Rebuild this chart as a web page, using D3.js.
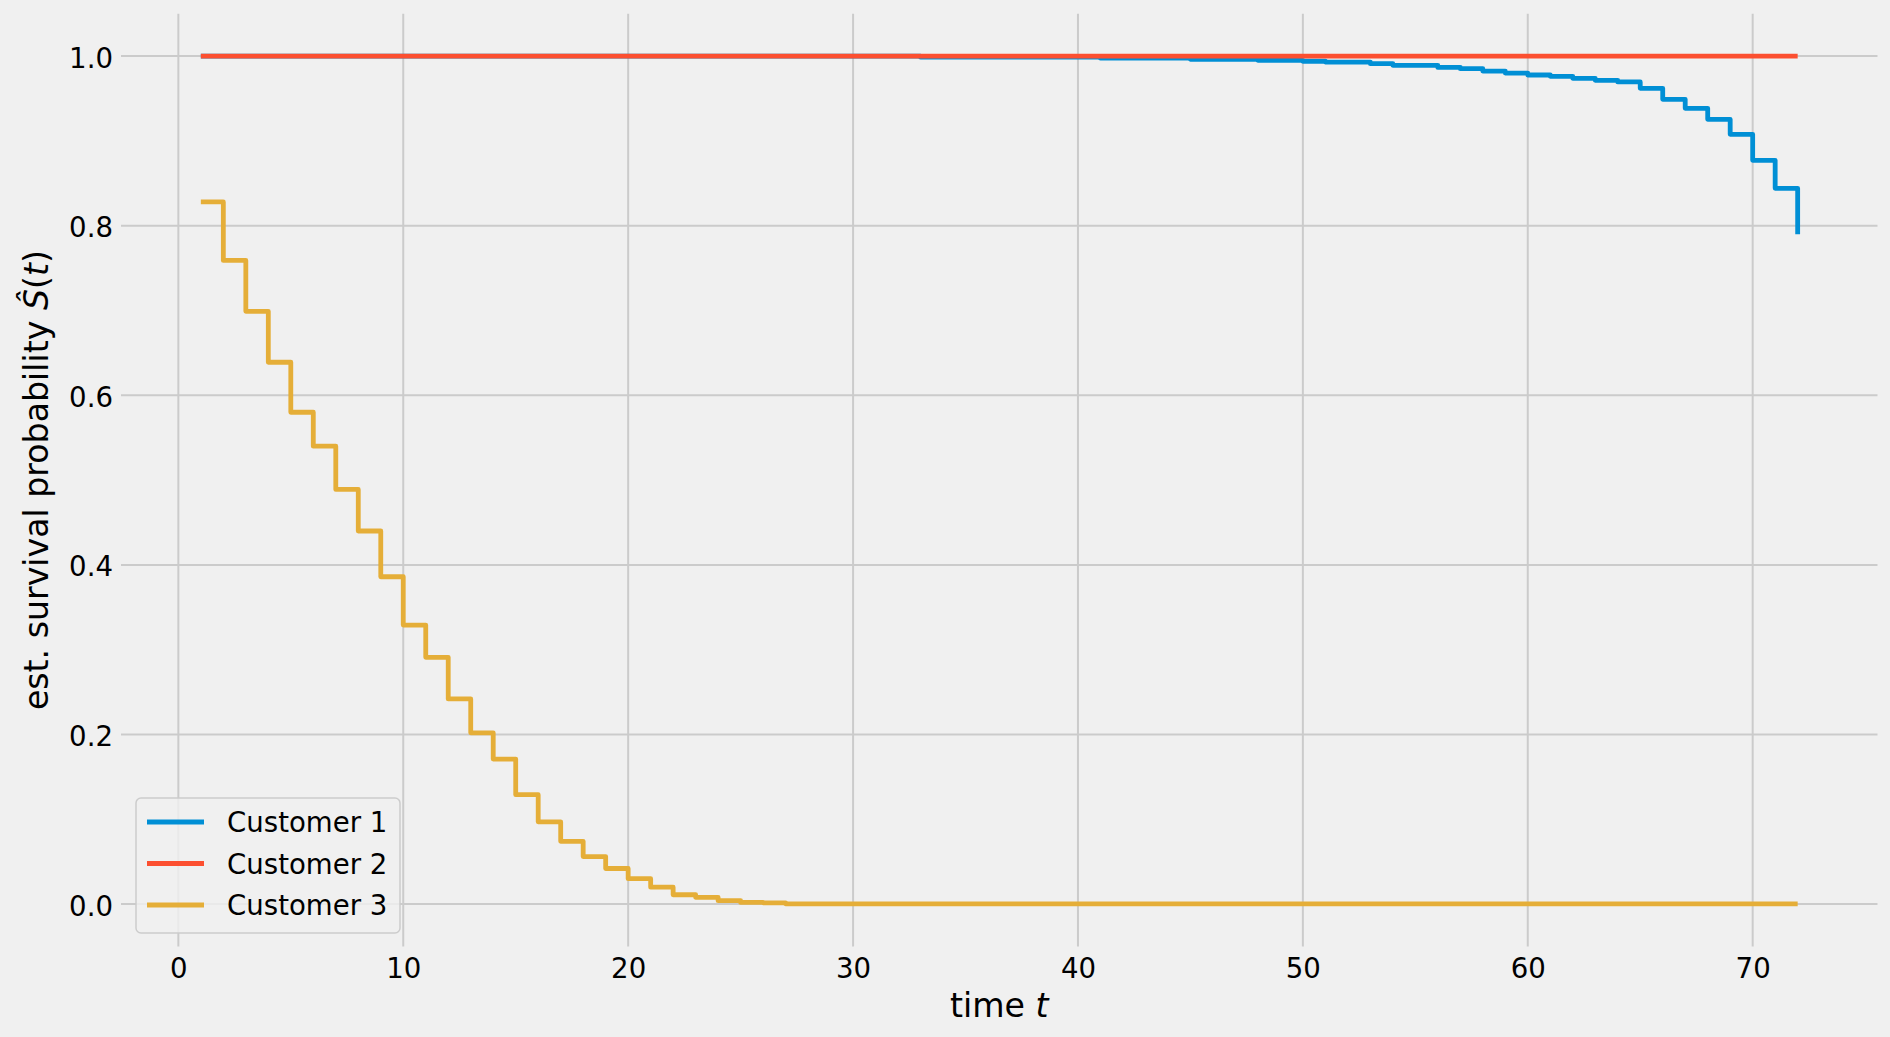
<!DOCTYPE html>
<html>
<head>
<meta charset="utf-8">
<script src="https://cdn.jsdelivr.net/npm/d3@7"></script>
<style>
html, body { margin: 0; padding: 0; background: #f0f0f0; }
svg { display: block; font-family: "DejaVu Sans", sans-serif; }
</style>
</head>
<body>
<svg id="chart" width="1890" height="1037"></svg>
<script>
// ---- data ----
const xTicks = [0, 10, 20, 30, 40, 50, 60, 70];
const yTicks = [0.0, 0.2, 0.4, 0.6, 0.8, 1.0];
const seriesNames = ["Customer 1", "Customer 2", "Customer 3"];
const seriesColors = ["#008fd5", "#fc4f30", "#e5ae38"];

// times where the estimated survival changes (step-after), and the values
const times1 = [1, 33, 41, 45, 48, 50, 51, 53, 54, 56, 57, 58, 59, 60, 61, 62, 63, 64, 65, 66, 67, 68, 69, 70, 71, 72];
const surv1  = [1.0, 0.9987, 0.9975, 0.9963, 0.9950, 0.9939, 0.9930, 0.9911, 0.9891, 0.9867, 0.9852, 0.9824, 0.9800, 0.9777, 0.9762, 0.9738, 0.9714, 0.9695, 0.9620, 0.9490, 0.9384, 0.9255, 0.9078, 0.8771, 0.8441, 0.790];

const times2 = [1, 72];
const surv2  = [1.0, 1.0];

const times3 = [1, 2, 3, 4, 5, 6, 7, 8, 9, 10, 11, 12, 13, 14, 15, 16, 17, 18, 19, 20, 21, 22, 23, 24, 25, 26, 27, 72];
const surv3  = [0.828, 0.759, 0.699, 0.639, 0.580, 0.540, 0.489, 0.440, 0.386, 0.329, 0.291, 0.242, 0.202, 0.171, 0.129, 0.097, 0.074, 0.056, 0.042, 0.030, 0.020, 0.011, 0.008, 0.004, 0.002, 0.0015, 0.0003, 0.0003];

const xLabel = "time ";
const yLabel = "est. survival probability ";

// ---- drawing ----
const svg = d3.select("#chart");
svg.append("rect").attr("width", 1890).attr("height", 1037).attr("fill", "#f0f0f0");

const x = d3.scaleLinear().domain([-2.55, 75.55]).range([121, 1877.5]);
const y = d3.scaleLinear().domain([-0.05, 1.05]).range([946.5, 13.7]);

const tickFont = 27.6;
const labelFont = 33.2;

// grid
const grid = svg.append("g");
grid.selectAll("line.v").data(xTicks).enter().append("line")
  .attr("x1", d => x(d)).attr("x2", d => x(d))
  .attr("y1", y.range()[0]).attr("y2", y.range()[1])
  .attr("stroke", "#cbcbcb").attr("stroke-width", 2);
grid.selectAll("line.h").data(yTicks).enter().append("line")
  .attr("x1", x.range()[0]).attr("x2", x.range()[1])
  .attr("y1", d => y(d)).attr("y2", d => y(d))
  .attr("stroke", "#cbcbcb").attr("stroke-width", 2);

// axes (tick labels only, no spines)
const xAxis = d3.axisBottom(x).tickValues(xTicks).tickSize(0).tickPadding(0).tickFormat(d3.format("d"));
const gx = svg.append("g").attr("transform", `translate(0,${y.range()[0]})`).call(xAxis);
gx.select(".domain").remove();
gx.selectAll("text").attr("font-size", tickFont).attr("fill", "#000")
  .attr("font-family", "DejaVu Sans").attr("dy", null).attr("y", 31);

const yAxis = d3.axisLeft(y).tickValues(yTicks).tickSize(0).tickPadding(0).tickFormat(d3.format(".1f"));
const gy = svg.append("g").attr("transform", `translate(${x.range()[0]},0)`).call(yAxis);
gy.select(".domain").remove();
gy.selectAll("text").attr("font-size", tickFont).attr("fill", "#000")
  .attr("font-family", "DejaVu Sans").attr("x", -8).attr("dy", null).attr("y", 11);

// series
const series = [
  { t: times1, s: surv1 },
  { t: times2, s: surv2 },
  { t: times3, s: surv3 }
];
const line = d3.line().x(d => x(d[0])).y(d => y(d[1])).curve(d3.curveStepAfter);
series.forEach((ser, i) => {
  const pts = ser.t.map((t, j) => [t, ser.s[j]]);
  svg.append("path").datum(pts)
    .attr("d", line)
    .attr("fill", "none")
    .attr("stroke", seriesColors[i])
    .attr("stroke-width", 4.8)
    .attr("stroke-linecap", "butt")
    .attr("stroke-linejoin", "round");
});

// axis labels
const xl = svg.append("text")
  .attr("x", (x.range()[0] + x.range()[1]) / 2)
  .attr("y", 1016.5)
  .attr("text-anchor", "middle")
  .attr("font-size", labelFont).attr("fill", "#000");
xl.append("tspan").text(xLabel);
xl.append("tspan").attr("font-style", "italic").text("t");

const yl = svg.append("text")
  .attr("transform", `translate(48,${(y.range()[0] + y.range()[1]) / 2}) rotate(-90)`)
  .attr("text-anchor", "middle")
  .attr("font-size", labelFont).attr("fill", "#000");
yl.append("tspan").text(yLabel);
yl.append("tspan").attr("font-style", "italic").text("\u015C");
yl.append("tspan").text("(");
yl.append("tspan").attr("font-style", "italic").text("t");
yl.append("tspan").text(")");

// legend
const lg = svg.append("g");
lg.append("rect")
  .attr("x", 136).attr("y", 798).attr("width", 264).attr("height", 135)
  .attr("rx", 5).attr("ry", 5)
  .attr("fill", "#f0f0f0").attr("fill-opacity", 0.8)
  .attr("stroke", "#cccccc").attr("stroke-width", 1.5);
const legendY = d3.scalePoint().domain(seriesNames).range([822, 905]);
seriesNames.forEach((name, i) => {
  const cy = legendY(name);
  lg.append("line").attr("x1", 147).attr("x2", 204).attr("y1", cy).attr("y2", cy)
    .attr("stroke", seriesColors[i]).attr("stroke-width", 4.8);
  lg.append("text").attr("x", 227).attr("y", cy + 10)
    .attr("font-size", tickFont).attr("fill", "#000").text(name);
});
</script>
</body>
</html>
